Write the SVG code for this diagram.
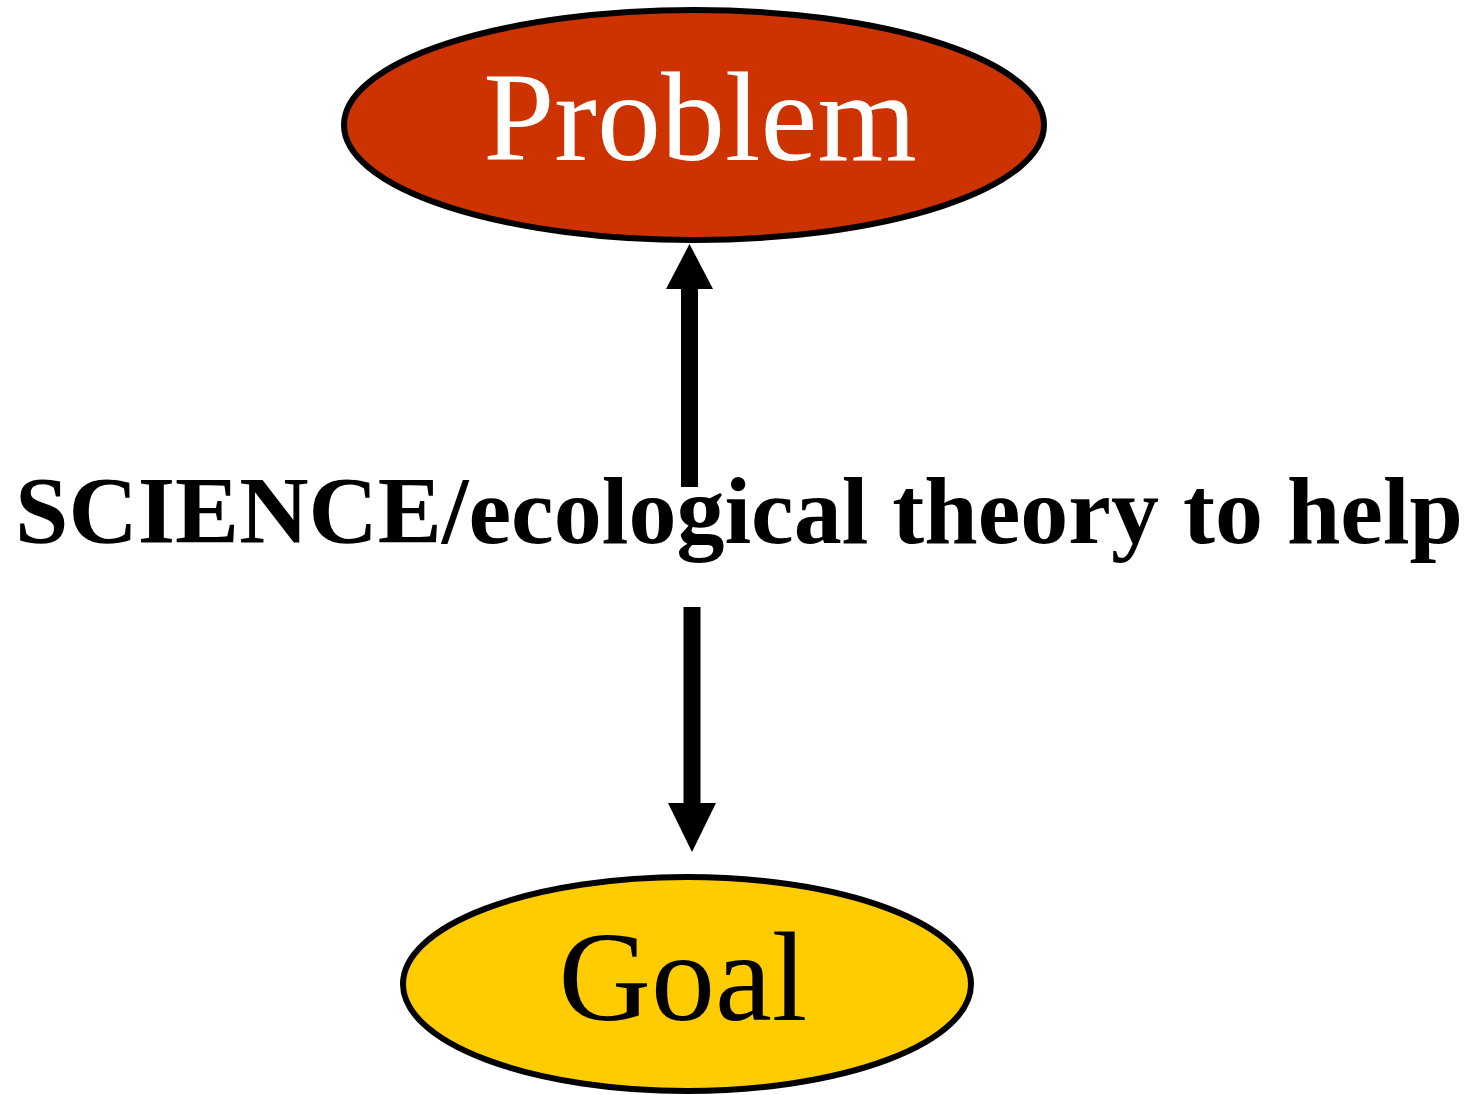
<svg xmlns="http://www.w3.org/2000/svg" width="1470" height="1095" viewBox="0 0 1470 1095">
<style>
.node ellipse{stroke:#000;stroke-width:6}
.node text{font-family:"Liberation Serif","Times New Roman",serif;font-size:128px;text-anchor:middle}
.lbl{font-family:"Liberation Serif","Times New Roman",serif;font-size:96px;font-weight:bold;text-anchor:middle;fill:#000}
.shaft{stroke:#000;stroke-width:17;fill:none}
</style>
<rect width="1470" height="1095" fill="#fff"/>
<g id="connectors">
<line class="shaft" x1="689.5" y1="487" x2="689.5" y2="285"/>
<polygon points="689.5,244 666,289 713,289" fill="#000"/>
<line class="shaft" x1="692" y1="607" x2="692" y2="807"/>
<polygon points="692,852 668,803 716,803" fill="#000"/>
<text class="lbl" x="739" y="543">SCIENCE/ecological theory to help</text>
</g>
<g id="node-problem" class="node">
<ellipse cx="694" cy="125" rx="350" ry="115" fill="#cc3300"/>
<text x="700" y="160" fill="#fff">Problem</text>
</g>
<g id="node-goal" class="node">
<ellipse cx="687" cy="984" rx="284" ry="107" fill="#ffcc00"/>
<text x="683" y="1020" fill="#000">Goal</text>
</g>
</svg>
